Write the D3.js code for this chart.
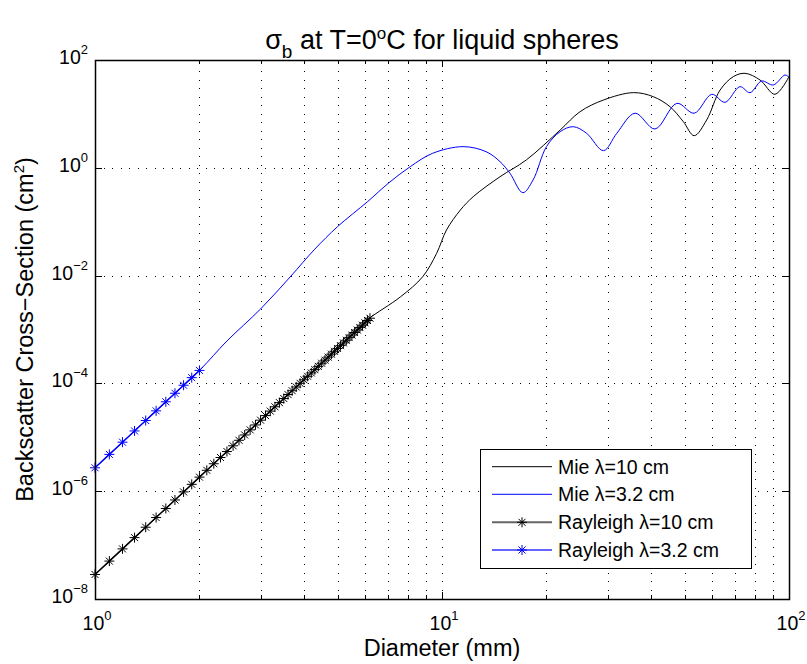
<!DOCTYPE html>
<html>
<head>
<meta charset="utf-8">
<script src="https://cdn.jsdelivr.net/npm/d3@7"></script>
<style>
  body { margin: 0; background: #fff; }
  svg { display: block; font-family: "Liberation Sans", Arial, Helvetica, sans-serif; }
</style>
</head>
<body>
<svg id="chart" width="807" height="664"></svg>
<script>
// Rayleigh curves (diameter in mm, sigma in cm^2)
const rayDiam10 = [1.0,1.1,1.2,1.3,1.4,1.5,1.6,1.7,1.8,1.9,2.0,2.1,2.2,2.3,2.4,2.5,2.6,2.7,2.8,2.9,3.0,
  3.1,3.2,3.3,3.4,3.5,3.6,3.7,3.8,3.9,4.0,4.1,4.2,4.3,4.4,4.5,4.6,4.7,4.8,4.9,5.0,
  5.1,5.2,5.3,5.4,5.5,5.6,5.7,5.8,5.9,6.0,6.1,6.2];
const rayleigh10 = [2.85e-8,5.05e-8,8.51e-8,1.376e-7,2.146e-7,3.246e-7,4.781e-7,6.879e-7,9.693e-7,1.341e-6,1.824e-6,
  2.444e-6,3.231e-6,4.219e-6,5.446e-6,6.958e-6,8.804e-6,1.104e-5,1.373e-5,1.695e-5,2.078e-5,
  2.529e-5,3.060e-5,3.681e-5,4.403e-5,5.239e-5,6.204e-5,7.312e-5,8.581e-5,1.003e-4,1.167e-4,
  1.354e-4,1.564e-4,1.802e-4,2.068e-4,2.367e-4,2.700e-4,3.072e-4,3.486e-4,3.945e-4,4.453e-4,
  5.015e-4,5.635e-4,6.317e-4,7.067e-4,7.889e-4,8.790e-4,9.774e-4,1.085e-3,1.202e-3,1.330e-3,1.468e-3,1.619e-3];
const rayDiam32 = [1.0,1.1,1.2,1.3,1.4,1.5,1.6,1.7,1.8,1.9,2.0];
const rayleigh32 = [2.718e-6,4.815e-6,8.116e-6,1.312e-5,2.047e-5,3.096e-5,4.560e-5,6.561e-5,9.244e-5,1.279e-4,1.740e-4];

// Mie curves
const mieDiam10 = [1,2,3,4,5,6,6.2,7.6,8.8,9.65,10.3,11.3,12.3,14.7,17.5,21.9,25,29.2,35.6,40.6,45.4,49.6,53.3,57.9,63.3,69.1,74.7,82.5,91.1,100];
const mie10 = [2.85e-8,1.82e-6,2.08e-5,1.17e-4,4.5e-4,1.36e-3,1.65e-3,4.06e-3,9.55e-3,2.59e-2,7.0e-2,0.165,0.291,0.684,1.40,5.02,11.0,18.1,24.8,20.9,13.6,7.18,3.94,7.71,27.7,49.1,56.6,42.6,23.1,49.1];
const mieDiam32 = [1,1.5,2,2.4,3,3.65,4.3,5,6.1,7,8.1,9.4,11.5,13.4,14.7,15.7,17.1,18.3,20,21.9,23.9,26.1,29.2,31.9,36,41.1,47.5,53.3,59.9,65.4,72.2,77.2,83.4,90.1,97.4,100];
const mie32 = [2.72e-6,3.1e-5,1.74e-4,6.12e-4,2.40e-3,9.42e-3,3.1e-2,8.09e-2,0.235,0.515,1.05,1.86,2.47,1.99,1.30,0.791,0.345,0.594,2.47,4.68,5.79,4.37,2.08,4.37,10.3,5.25,15.7,10.3,23.1,16.4,32.0,24.8,40.7,34.4,52.7,47.8];

const xMajorExp = [0, 1, 2];
const yMajorExp = [-8, -6, -4, -2, 0, 2];
const legendLabels = ["Mie \u03bb=10 cm", "Mie \u03bb=3.2 cm", "Rayleigh \u03bb=10 cm", "Rayleigh \u03bb=3.2 cm"];

const svg = d3.select("#chart");
const margin = {left: 95, right: 789, top: 60, bottom: 599};

const x = d3.scaleLog().domain([1, 100]).range([margin.left, margin.right]);
const y = d3.scaleLog().domain([1e-8, 1e2]).range([margin.bottom, margin.top]);

const xMajor = xMajorExp.map(e => Math.pow(10, e));
const yMajor = yMajorExp.map(e => Math.pow(10, e));
const xAll = x.ticks();
const xMinor = xAll.filter(v => !xMajor.includes(v));

// Grid (dotted)
const grid = svg.append("g").attr("stroke", "#000").attr("stroke-width", 1)
  .attr("stroke-dasharray", "1,7.5").attr("shape-rendering", "crispEdges");
grid.selectAll("line.vg")
  .data(xAll.filter(v => v > 1 && v < 100))
  .join("line")
  .attr("x1", d => Math.round(x(d)) + 0.5).attr("x2", d => Math.round(x(d)) + 0.5)
  .attr("y1", margin.bottom).attr("y2", margin.top);
grid.selectAll("line.hg")
  .data(yMajor.filter(v => v > 1e-8 && v < 1e2))
  .join("line")
  .attr("y1", d => Math.round(y(d)) + 0.5).attr("y2", d => Math.round(y(d)) + 0.5)
  .attr("x1", margin.left).attr("x2", margin.right);

// Curves
const line = d3.line().x(d => x(d[0])).y(d => y(d[1]));
const zip = (a, b) => a.map((v, i) => [v, b[i]]);

svg.append("path").datum(zip(mieDiam10, mie10))
  .attr("d", line.curve(d3.curveCatmullRom.alpha(0.5))).attr("fill", "none").attr("stroke", "#000").attr("stroke-width", 1);
svg.append("path").datum(zip(mieDiam32, mie32))
  .attr("d", line.curve(d3.curveCatmullRom.alpha(0.5))).attr("fill", "none").attr("stroke", "#0000ff").attr("stroke-width", 1);

const star = "M-5,0H5M0,-5V5M-3.5,-3.5L3.5,3.5M-3.5,3.5L3.5,-3.5";

function rayleigh(diam, vals, color) {
  const pts = zip(diam, vals);
  svg.append("path").datum(pts)
    .attr("d", line.curve(d3.curveLinear)).attr("fill", "none").attr("stroke", color).attr("stroke-width", 1.5);
  svg.append("g").selectAll("path")
    .data(pts)
    .join("path")
    .attr("transform", d => `translate(${x(d[0])},${y(d[1])})`)
    .attr("d", star).attr("fill", "none").attr("stroke", color).attr("stroke-width", 1);
}
rayleigh(rayDiam10, rayleigh10, "#000");
rayleigh(rayDiam32, rayleigh32, "#0000ff");

// Axes box + ticks (inside)
function tickAxis(gen, tr) {
  const g = svg.append("g").attr("transform", tr).call(gen);
  g.select(".domain").remove();
  g.selectAll("line").attr("stroke", "#000").attr("shape-rendering", "crispEdges");
  g.selectAll("text").remove();
}
tickAxis(d3.axisBottom(x).tickValues(xMinor).tickSize(-4), `translate(0,${margin.bottom})`);
tickAxis(d3.axisBottom(x).tickValues(xMajor).tickSize(-7), `translate(0,${margin.bottom})`);
tickAxis(d3.axisTop(x).tickValues(xMinor).tickSize(-4), `translate(0,${margin.top})`);
tickAxis(d3.axisTop(x).tickValues(xMajor).tickSize(-7), `translate(0,${margin.top})`);
tickAxis(d3.axisLeft(y).tickValues(yMajor).tickSize(-7), `translate(${margin.left},0)`);
tickAxis(d3.axisRight(y).tickValues(yMajor).tickSize(-7), `translate(${margin.right},0)`);

svg.append("rect")
  .attr("x", margin.left + 0.5).attr("y", margin.top + 0.5)
  .attr("width", margin.right - margin.left).attr("height", margin.bottom - margin.top)
  .attr("fill", "none").attr("stroke", "#000").attr("stroke-width", 1.5);

// Tick labels
function powLabel(sel, e) {
  sel.append("tspan").text("10");
  sel.append("tspan").attr("dy", -10).attr("font-size", 13).text(e < 0 ? "\u2212" + (-e) : e);
}
xMajorExp.forEach(e => {
  svg.append("text").attr("x", x(Math.pow(10, e)) + 2).attr("y", 630)
    .attr("text-anchor", "middle").attr("font-size", 19.5)
    .call(powLabel, e);
});
yMajorExp.forEach(e => {
  svg.append("text").attr("x", 88).attr("y", y(Math.pow(10, e)) + 4)
    .attr("text-anchor", "end").attr("font-size", 19.5)
    .call(powLabel, e);
});

// Axis labels
svg.append("text").attr("x", (margin.left + margin.right) / 2).attr("y", 656)
  .attr("text-anchor", "middle").attr("font-size", 23.5).text("Diameter (mm)");

const yl = svg.append("text")
  .attr("transform", `translate(33,${(margin.top + margin.bottom) / 2}) rotate(-90)`)
  .attr("text-anchor", "middle").attr("font-size", 23.5);
yl.append("tspan").text("Backscatter Cross\u2212Section (cm");
yl.append("tspan").attr("dy", -9).attr("font-size", 15).text("2");
yl.append("tspan").attr("dy", 9).text(")");

// Title
const title = svg.append("text").attr("x", (margin.left + margin.right) / 2).attr("y", 49)
  .attr("text-anchor", "middle").attr("font-size", 27);
title.append("tspan").text("\u03c3");
title.append("tspan").attr("dy", 9).attr("font-size", 19).text("b");
title.append("tspan").attr("dy", -9).text(" at T=0");
title.append("tspan").attr("dy", -10).attr("font-size", 17).text("o");
title.append("tspan").attr("dy", 10).text("C for liquid spheres");

// Legend
const lg = svg.append("g");
lg.append("rect").attr("x", 480.5).attr("y", 449.5).attr("width", 271).attr("height", 119)
  .attr("fill", "#fff").attr("stroke", "#000").attr("stroke-width", 1);
const legendRows = [466.7, 494.3, 522.3, 550];
const legendColors = ["#000", "#0000ff", "#000", "#0000ff"];
legendLabels.forEach((lab, i) => {
  const yy = legendRows[i];
  lg.append("line").attr("x1", 492).attr("x2", 552).attr("y1", yy).attr("y2", yy)
    .attr("stroke", legendColors[i]).attr("stroke-width", i < 2 ? 1 : 2).attr("stroke-opacity", i < 2 ? 1 : 0.6);
  if (i >= 2) {
    lg.append("path").attr("transform", `translate(522,${yy})`).attr("d", star)
      .attr("fill", "none").attr("stroke", legendColors[i]).attr("stroke-width", 1);
  }
  lg.append("text").attr("x", 558).attr("y", yy + 7).attr("font-size", 19.5).text(lab);
});
</script>
</body>
</html>
